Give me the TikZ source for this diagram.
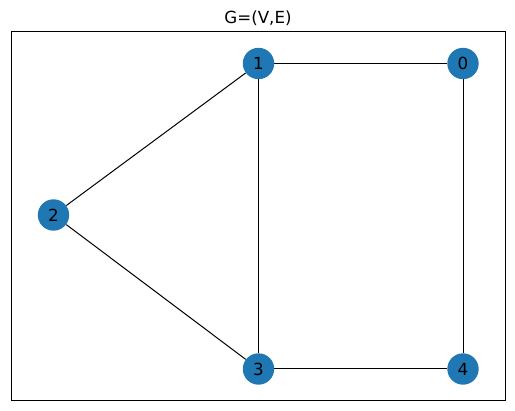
\documentclass[tikz,border=0pt]{standalone}
\usepackage{fontspec}
\setmainfont{DejaVu Sans}
\usetikzlibrary{positioning}

\definecolor{tabblue}{HTML}{1F77B4}

\tikzset{
  vertex/.style={circle, fill=tabblue, minimum size=22.6pt, inner sep=0pt, font=\fontsize{12}{14}\selectfont},
  edge/.style={line width=0.72pt}
}

\begin{document}
\begin{tikzpicture}[x=0.72pt, y=-0.72pt]
                \useasboundingbox (0,0) rectangle (515,411);
                \draw[line width=0.58pt] (11,31.5) rectangle (505.5,400.5);
                \node[font=\fontsize{12}{14}\selectfont] (title) at (258,18) {G=(V,E)};
                
                \node[vertex] (n1) at (258.5,63.5) {1};
                \node[vertex] (n0) at (463,63.5) {0};
                \node[vertex] (n2) at (53.5,215) {2};
                \node[vertex] (n3) at (258.5,369) {3};
                \node[vertex] (n4) at (463,369) {4};
                
                \draw[edge] (n1) -- (n0);
                \draw[edge] (n1) -- (n2);
                \draw[edge] (n1) -- (n3);
                \draw[edge] (n0) -- (n4);
                \draw[edge] (n2) -- (n3);
                \draw[edge] (n3) -- (n4);
            \end{tikzpicture}
\end{document}
